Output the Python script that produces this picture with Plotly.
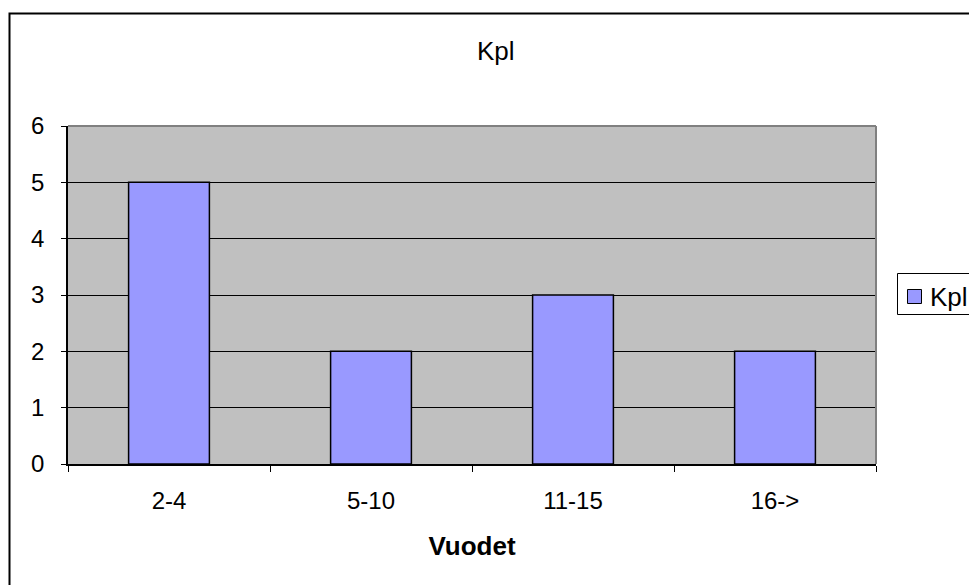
import plotly.graph_objects as go

categories = ["2-4", "5-10", "11-15", "16->"]
values = [5, 2, 3, 2]
series_name = "Kpl"
title_text = "Kpl"
x_title = "Vuodet"

W, H = 969, 585
L, R, T, B = 68, 876, 126, 464          # plot area in pixels
pw, ph = R - L, B - T

def px(x):
    return (x - L) / pw

def py(y):
    return (B - y) / ph

FONT = "Liberation Sans, Arial, sans-serif"
FS = 24
FS_BIG = 26
BAR_COLOR = "#9999FF"

fig = go.Figure()
fig.add_trace(go.Bar(
    x=categories, y=values, name=series_name,
    marker=dict(color=BAR_COLOR, line=dict(color="black", width=1.5)),
    showlegend=False,
))

fig.update_layout(
    width=W, height=H,
    margin=dict(l=L, r=W - R, t=T, b=H - B, pad=0, autoexpand=False),
    paper_bgcolor="white",
    plot_bgcolor="#C0C0C0",
    font=dict(family=FONT, size=FS, color="black"),
    bargap=0.6,
    showlegend=False,
    xaxis=dict(
        showline=True, linecolor="black", linewidth=1.5,
        ticks="outside", tickson="boundaries", ticklen=6, tickcolor="black",
        showgrid=False, ticklabelstandoff=14,
        title=dict(text="<b>" + x_title + "</b>", standoff=24,
                   font=dict(family=FONT, size=FS_BIG, color="black")),
    ),
    yaxis=dict(
        range=[0, 6], dtick=1, tick0=0,
        showline=True, linecolor="black", linewidth=1.5,
        ticks="outside", ticklen=5, tickcolor="black",
        showgrid=True, gridcolor="black", gridwidth=1,
        zeroline=False, ticklabelstandoff=12,
    ),
    annotations=[
        dict(text=title_text, xref="paper", yref="paper",
             x=px(496), y=py(51), xanchor="center", yanchor="middle",
             showarrow=False, font=dict(family=FONT, size=FS_BIG, color="black")),
        # legend label
        dict(text=series_name, xref="paper", yref="paper",
             x=px(928), y=py(297), xanchor="left", yanchor="middle",
             showarrow=False, font=dict(family=FONT, size=FS_BIG, color="black")),
    ],
    shapes=[
        dict(type="line", xref="paper", yref="paper", x0=0, x1=1, y0=1, y1=1,
             line=dict(color="#808080", width=2), layer="above"),
        dict(type="line", xref="paper", yref="paper", x0=1, x1=1, y0=0, y1=1,
             line=dict(color="#808080", width=2), layer="above"),
        # chart outer border
        dict(type="rect", xref="paper", yref="paper",
             x0=px(9.5), x1=px(990), y0=py(600), y1=py(13.5),
             line=dict(color="black", width=2), fillcolor="rgba(0,0,0,0)",
             layer="below"),
        # legend box
        dict(type="rect", xref="paper", yref="paper",
             x0=px(897.5), x1=px(990), y0=py(314.5), y1=py(273.5),
             line=dict(color="black", width=1), fillcolor="white", layer="above"),
        # legend swatch
        dict(type="rect", xref="paper", yref="paper",
             x0=px(907.5), x1=px(921.5), y0=py(303.5), y1=py(289.5),
             line=dict(color="black", width=1), fillcolor=BAR_COLOR, layer="above"),
    ],
)

fig.write_html(
    "out.html",
    config={"displayModeBar": False},
    post_script="document.body.style.margin='0';document.body.style.overflow='hidden';",
)
